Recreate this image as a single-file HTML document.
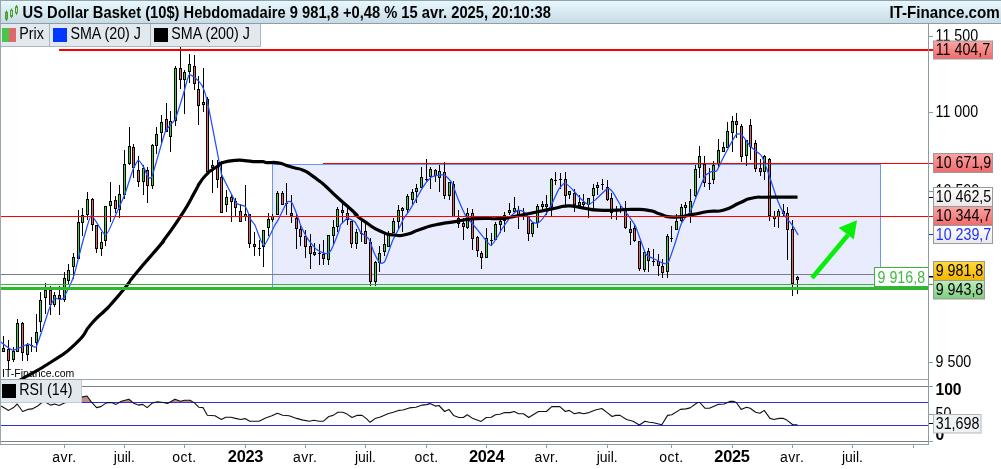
<!DOCTYPE html>
<html lang="fr"><head><meta charset="utf-8"><title>US Dollar Basket</title>
<style>
html,body{margin:0;padding:0;background:#fff;overflow:hidden}
svg{display:block}
text{font-family:"Liberation Sans",sans-serif;font-size:15px;letter-spacing:-0.35px;fill:#000}
.x{font-size:14px;letter-spacing:0}
.b{font-weight:bold}
</style></head><body>
<svg width="1001" height="469" viewBox="0 0 1001 469">
<defs>
<linearGradient id="gt" x1="0" y1="0" x2="0" y2="1"><stop offset="0" stop-color="#e8f9fe"/><stop offset="1" stop-color="#c8dbe5"/></linearGradient>
<linearGradient id="gr" x1="0" y1="0" x2="0" y2="1"><stop offset="0" stop-color="#fda5a5"/><stop offset="1" stop-color="#f06a6a"/></linearGradient>
<linearGradient id="gy" x1="0" y1="0" x2="0" y2="1"><stop offset="0" stop-color="#ffdc3c"/><stop offset="1" stop-color="#f4b400"/></linearGradient>
<linearGradient id="gg" x1="0" y1="0" x2="0" y2="1"><stop offset="0" stop-color="#bdeebd"/><stop offset="1" stop-color="#7fcb7f"/></linearGradient>
<linearGradient id="gw" x1="0" y1="0" x2="0" y2="1"><stop offset="0" stop-color="#ffffff"/><stop offset="1" stop-color="#e8e8e8"/></linearGradient>
<clipPath id="cm"><rect x="1" y="24" width="927.5" height="355.5"/></clipPath>
<clipPath id="cr"><rect x="0" y="380" width="928" height="22.5"/></clipPath>
</defs>
<rect width="1001" height="469" fill="#fff"/>

<g clip-path="url(#cm)">
<rect x="272.5" y="164.5" width="608" height="124" fill="#e8ecfd" stroke="#6f96ee" stroke-width="1"/>
<rect x="0" y="274" width="929" height="1" fill="#7c7c88"/>
<rect x="3" y="336" width="1" height="16" fill="#000"/>
<rect x="2" y="348" width="3" height="4" fill="#000"/>
<rect x="3" y="349" width="1" height="2" fill="#3fd23f"/>
<rect x="8" y="340" width="1" height="30" fill="#000"/>
<rect x="7" y="349" width="3" height="12" fill="#000"/>
<rect x="8" y="350" width="1" height="10" fill="#e26464"/>
<rect x="13" y="347" width="1" height="15" fill="#000"/>
<rect x="12" y="351" width="3" height="9" fill="#000"/>
<rect x="13" y="352" width="1" height="7" fill="#3fd23f"/>
<rect x="17" y="319" width="1" height="33" fill="#000"/>
<rect x="16" y="323" width="3" height="29" fill="#000"/>
<rect x="17" y="324" width="1" height="27" fill="#3fd23f"/>
<rect x="22" y="322" width="1" height="39" fill="#000"/>
<rect x="21" y="323" width="3" height="30" fill="#000"/>
<rect x="22" y="324" width="1" height="28" fill="#e26464"/>
<rect x="27" y="343" width="1" height="18" fill="#000"/>
<rect x="26" y="345" width="3" height="10" fill="#000"/>
<rect x="27" y="346" width="1" height="8" fill="#3fd23f"/>
<rect x="31" y="337" width="1" height="15" fill="#000"/>
<rect x="30" y="345" width="3" height="1" fill="#000"/>
<rect x="36" y="314" width="1" height="38" fill="#000"/>
<rect x="35" y="332" width="3" height="11" fill="#000"/>
<rect x="36" y="333" width="1" height="9" fill="#3fd23f"/>
<rect x="40" y="292" width="1" height="40" fill="#000"/>
<rect x="39" y="300" width="3" height="22" fill="#000"/>
<rect x="40" y="301" width="1" height="20" fill="#3fd23f"/>
<rect x="45" y="283" width="1" height="31" fill="#000"/>
<rect x="44" y="290" width="3" height="8" fill="#000"/>
<rect x="45" y="291" width="1" height="6" fill="#3fd23f"/>
<rect x="50" y="286" width="1" height="29" fill="#000"/>
<rect x="49" y="290" width="3" height="15" fill="#000"/>
<rect x="50" y="291" width="1" height="13" fill="#e26464"/>
<rect x="54" y="292" width="1" height="15" fill="#000"/>
<rect x="53" y="295" width="3" height="10" fill="#000"/>
<rect x="54" y="296" width="1" height="8" fill="#3fd23f"/>
<rect x="59" y="286" width="1" height="29" fill="#000"/>
<rect x="58" y="295" width="3" height="4" fill="#000"/>
<rect x="59" y="296" width="1" height="2" fill="#e26464"/>
<rect x="64" y="272" width="1" height="30" fill="#000"/>
<rect x="63" y="278" width="3" height="22" fill="#000"/>
<rect x="64" y="279" width="1" height="20" fill="#3fd23f"/>
<rect x="68" y="264" width="1" height="20" fill="#000"/>
<rect x="67" y="270" width="3" height="11" fill="#000"/>
<rect x="68" y="271" width="1" height="9" fill="#3fd23f"/>
<rect x="73" y="253" width="1" height="26" fill="#000"/>
<rect x="72" y="257" width="3" height="10" fill="#000"/>
<rect x="73" y="258" width="1" height="8" fill="#3fd23f"/>
<rect x="78" y="210" width="1" height="49" fill="#000"/>
<rect x="77" y="222" width="3" height="37" fill="#000"/>
<rect x="78" y="223" width="1" height="35" fill="#3fd23f"/>
<rect x="82" y="208" width="1" height="28" fill="#000"/>
<rect x="81" y="215" width="3" height="8" fill="#000"/>
<rect x="82" y="216" width="1" height="6" fill="#3fd23f"/>
<rect x="87" y="192" width="1" height="28" fill="#000"/>
<rect x="86" y="199" width="3" height="16" fill="#000"/>
<rect x="87" y="200" width="1" height="14" fill="#3fd23f"/>
<rect x="92" y="198" width="1" height="33" fill="#000"/>
<rect x="91" y="199" width="3" height="26" fill="#000"/>
<rect x="92" y="200" width="1" height="24" fill="#e26464"/>
<rect x="96" y="225" width="1" height="28" fill="#000"/>
<rect x="95" y="225" width="3" height="24" fill="#000"/>
<rect x="96" y="226" width="1" height="22" fill="#e26464"/>
<rect x="101" y="232" width="1" height="24" fill="#000"/>
<rect x="100" y="242" width="3" height="7" fill="#000"/>
<rect x="101" y="243" width="1" height="5" fill="#3fd23f"/>
<rect x="105" y="206" width="1" height="40" fill="#000"/>
<rect x="104" y="206" width="3" height="35" fill="#000"/>
<rect x="105" y="207" width="1" height="33" fill="#3fd23f"/>
<rect x="110" y="182" width="1" height="40" fill="#000"/>
<rect x="109" y="201" width="3" height="5" fill="#000"/>
<rect x="110" y="202" width="1" height="3" fill="#3fd23f"/>
<rect x="115" y="196" width="1" height="17" fill="#000"/>
<rect x="114" y="200" width="3" height="9" fill="#000"/>
<rect x="115" y="201" width="1" height="7" fill="#e26464"/>
<rect x="119" y="185" width="1" height="33" fill="#000"/>
<rect x="118" y="194" width="3" height="16" fill="#000"/>
<rect x="119" y="195" width="1" height="14" fill="#3fd23f"/>
<rect x="124" y="150" width="1" height="49" fill="#000"/>
<rect x="123" y="164" width="3" height="31" fill="#000"/>
<rect x="124" y="165" width="1" height="29" fill="#3fd23f"/>
<rect x="129" y="127" width="1" height="38" fill="#000"/>
<rect x="128" y="146" width="3" height="18" fill="#000"/>
<rect x="129" y="147" width="1" height="16" fill="#3fd23f"/>
<rect x="133" y="144" width="1" height="34" fill="#000"/>
<rect x="132" y="147" width="3" height="21" fill="#000"/>
<rect x="133" y="148" width="1" height="19" fill="#e26464"/>
<rect x="138" y="156" width="1" height="31" fill="#000"/>
<rect x="137" y="170" width="3" height="12" fill="#000"/>
<rect x="138" y="171" width="1" height="10" fill="#e26464"/>
<rect x="143" y="165" width="1" height="30" fill="#000"/>
<rect x="142" y="168" width="3" height="14" fill="#000"/>
<rect x="143" y="169" width="1" height="12" fill="#3fd23f"/>
<rect x="147" y="167" width="1" height="36" fill="#000"/>
<rect x="146" y="170" width="3" height="16" fill="#000"/>
<rect x="147" y="171" width="1" height="14" fill="#e26464"/>
<rect x="152" y="144" width="1" height="45" fill="#000"/>
<rect x="151" y="145" width="3" height="41" fill="#000"/>
<rect x="152" y="146" width="1" height="39" fill="#3fd23f"/>
<rect x="156" y="127" width="1" height="27" fill="#000"/>
<rect x="155" y="134" width="3" height="12" fill="#000"/>
<rect x="156" y="135" width="1" height="10" fill="#3fd23f"/>
<rect x="161" y="115" width="1" height="28" fill="#000"/>
<rect x="160" y="122" width="3" height="11" fill="#000"/>
<rect x="161" y="123" width="1" height="9" fill="#3fd23f"/>
<rect x="166" y="103" width="1" height="29" fill="#000"/>
<rect x="165" y="119" width="3" height="13" fill="#000"/>
<rect x="166" y="120" width="1" height="11" fill="#e26464"/>
<rect x="170" y="111" width="1" height="41" fill="#000"/>
<rect x="169" y="121" width="3" height="16" fill="#000"/>
<rect x="170" y="122" width="1" height="14" fill="#3fd23f"/>
<rect x="175" y="66" width="1" height="60" fill="#000"/>
<rect x="174" y="68" width="3" height="53" fill="#000"/>
<rect x="175" y="69" width="1" height="51" fill="#3fd23f"/>
<rect x="180" y="47" width="1" height="42" fill="#000"/>
<rect x="179" y="68" width="3" height="12" fill="#000"/>
<rect x="180" y="69" width="1" height="10" fill="#e26464"/>
<rect x="184" y="70" width="1" height="44" fill="#000"/>
<rect x="183" y="72" width="3" height="8" fill="#000"/>
<rect x="184" y="73" width="1" height="6" fill="#3fd23f"/>
<rect x="189" y="54" width="1" height="29" fill="#000"/>
<rect x="188" y="64" width="3" height="8" fill="#000"/>
<rect x="189" y="65" width="1" height="6" fill="#3fd23f"/>
<rect x="194" y="55" width="1" height="35" fill="#000"/>
<rect x="193" y="66" width="3" height="18" fill="#000"/>
<rect x="194" y="67" width="1" height="16" fill="#e26464"/>
<rect x="198" y="76" width="1" height="49" fill="#000"/>
<rect x="197" y="89" width="3" height="17" fill="#000"/>
<rect x="198" y="90" width="1" height="15" fill="#e26464"/>
<rect x="203" y="68" width="1" height="44" fill="#000"/>
<rect x="202" y="102" width="3" height="3" fill="#000"/>
<rect x="203" y="103" width="1" height="1" fill="#3fd23f"/>
<rect x="207" y="97" width="1" height="75" fill="#000"/>
<rect x="206" y="99" width="3" height="73" fill="#000"/>
<rect x="207" y="100" width="1" height="71" fill="#e26464"/>
<rect x="212" y="160" width="1" height="33" fill="#000"/>
<rect x="211" y="165" width="3" height="3" fill="#000"/>
<rect x="212" y="166" width="1" height="1" fill="#3fd23f"/>
<rect x="217" y="160" width="1" height="28" fill="#000"/>
<rect x="216" y="166" width="3" height="14" fill="#000"/>
<rect x="217" y="167" width="1" height="12" fill="#e26464"/>
<rect x="221" y="161" width="1" height="52" fill="#000"/>
<rect x="220" y="177" width="3" height="36" fill="#000"/>
<rect x="221" y="178" width="1" height="34" fill="#e26464"/>
<rect x="226" y="190" width="1" height="22" fill="#000"/>
<rect x="225" y="197" width="3" height="8" fill="#000"/>
<rect x="226" y="198" width="1" height="6" fill="#3fd23f"/>
<rect x="231" y="195" width="1" height="27" fill="#000"/>
<rect x="230" y="197" width="3" height="5" fill="#000"/>
<rect x="231" y="198" width="1" height="3" fill="#e26464"/>
<rect x="235" y="198" width="1" height="19" fill="#000"/>
<rect x="234" y="201" width="3" height="7" fill="#000"/>
<rect x="235" y="202" width="1" height="5" fill="#e26464"/>
<rect x="240" y="204" width="1" height="18" fill="#000"/>
<rect x="239" y="211" width="3" height="11" fill="#000"/>
<rect x="240" y="212" width="1" height="9" fill="#e26464"/>
<rect x="245" y="185" width="1" height="36" fill="#000"/>
<rect x="244" y="214" width="3" height="3" fill="#000"/>
<rect x="245" y="215" width="1" height="1" fill="#3fd23f"/>
<rect x="249" y="214" width="1" height="34" fill="#000"/>
<rect x="248" y="214" width="3" height="30" fill="#000"/>
<rect x="249" y="215" width="1" height="28" fill="#e26464"/>
<rect x="254" y="232" width="1" height="24" fill="#000"/>
<rect x="253" y="244" width="3" height="3" fill="#000"/>
<rect x="254" y="245" width="1" height="1" fill="#e26464"/>
<rect x="259" y="240" width="1" height="16" fill="#000"/>
<rect x="258" y="248" width="3" height="1" fill="#000"/>
<rect x="263" y="230" width="1" height="37" fill="#000"/>
<rect x="262" y="230" width="3" height="17" fill="#000"/>
<rect x="263" y="231" width="1" height="15" fill="#3fd23f"/>
<rect x="268" y="213" width="1" height="23" fill="#000"/>
<rect x="267" y="219" width="3" height="9" fill="#000"/>
<rect x="268" y="220" width="1" height="7" fill="#3fd23f"/>
<rect x="272" y="214" width="1" height="8" fill="#000"/>
<rect x="271" y="216" width="3" height="4" fill="#000"/>
<rect x="272" y="217" width="1" height="2" fill="#3fd23f"/>
<rect x="277" y="191" width="1" height="24" fill="#000"/>
<rect x="276" y="193" width="3" height="22" fill="#000"/>
<rect x="277" y="194" width="1" height="20" fill="#3fd23f"/>
<rect x="282" y="191" width="1" height="14" fill="#000"/>
<rect x="281" y="193" width="3" height="12" fill="#000"/>
<rect x="282" y="194" width="1" height="10" fill="#e26464"/>
<rect x="286" y="183" width="1" height="32" fill="#000"/>
<rect x="285" y="203" width="3" height="1" fill="#000"/>
<rect x="291" y="195" width="1" height="28" fill="#000"/>
<rect x="290" y="213" width="3" height="3" fill="#000"/>
<rect x="291" y="214" width="1" height="1" fill="#e26464"/>
<rect x="296" y="214" width="1" height="35" fill="#000"/>
<rect x="295" y="218" width="3" height="11" fill="#000"/>
<rect x="296" y="219" width="1" height="9" fill="#e26464"/>
<rect x="300" y="226" width="1" height="20" fill="#000"/>
<rect x="299" y="229" width="3" height="8" fill="#000"/>
<rect x="300" y="230" width="1" height="6" fill="#e26464"/>
<rect x="305" y="230" width="1" height="28" fill="#000"/>
<rect x="304" y="236" width="3" height="11" fill="#000"/>
<rect x="305" y="237" width="1" height="9" fill="#e26464"/>
<rect x="310" y="234" width="1" height="35" fill="#000"/>
<rect x="309" y="246" width="3" height="8" fill="#000"/>
<rect x="310" y="247" width="1" height="6" fill="#e26464"/>
<rect x="314" y="243" width="1" height="13" fill="#000"/>
<rect x="313" y="252" width="3" height="3" fill="#000"/>
<rect x="314" y="253" width="1" height="1" fill="#3fd23f"/>
<rect x="319" y="244" width="1" height="21" fill="#000"/>
<rect x="318" y="253" width="3" height="1" fill="#000"/>
<rect x="323" y="240" width="1" height="25" fill="#000"/>
<rect x="322" y="254" width="3" height="5" fill="#000"/>
<rect x="323" y="255" width="1" height="3" fill="#e26464"/>
<rect x="328" y="235" width="1" height="30" fill="#000"/>
<rect x="327" y="235" width="3" height="25" fill="#000"/>
<rect x="328" y="236" width="1" height="23" fill="#3fd23f"/>
<rect x="333" y="220" width="1" height="24" fill="#000"/>
<rect x="332" y="227" width="3" height="9" fill="#000"/>
<rect x="333" y="228" width="1" height="7" fill="#3fd23f"/>
<rect x="337" y="207" width="1" height="25" fill="#000"/>
<rect x="336" y="209" width="3" height="18" fill="#000"/>
<rect x="337" y="210" width="1" height="16" fill="#3fd23f"/>
<rect x="342" y="204" width="1" height="19" fill="#000"/>
<rect x="341" y="210" width="3" height="3" fill="#000"/>
<rect x="342" y="211" width="1" height="1" fill="#e26464"/>
<rect x="347" y="208" width="1" height="17" fill="#000"/>
<rect x="346" y="213" width="3" height="7" fill="#000"/>
<rect x="347" y="214" width="1" height="5" fill="#e26464"/>
<rect x="351" y="221" width="1" height="27" fill="#000"/>
<rect x="350" y="221" width="3" height="23" fill="#000"/>
<rect x="351" y="222" width="1" height="21" fill="#e26464"/>
<rect x="356" y="229" width="1" height="20" fill="#000"/>
<rect x="355" y="232" width="3" height="12" fill="#000"/>
<rect x="356" y="233" width="1" height="10" fill="#3fd23f"/>
<rect x="361" y="221" width="1" height="21" fill="#000"/>
<rect x="360" y="233" width="3" height="1" fill="#000"/>
<rect x="365" y="221" width="1" height="23" fill="#000"/>
<rect x="364" y="231" width="3" height="13" fill="#000"/>
<rect x="365" y="232" width="1" height="11" fill="#e26464"/>
<rect x="370" y="238" width="1" height="48" fill="#000"/>
<rect x="369" y="242" width="3" height="40" fill="#000"/>
<rect x="370" y="243" width="1" height="38" fill="#e26464"/>
<rect x="375" y="261" width="1" height="25" fill="#000"/>
<rect x="374" y="262" width="3" height="20" fill="#000"/>
<rect x="375" y="263" width="1" height="18" fill="#3fd23f"/>
<rect x="379" y="246" width="1" height="26" fill="#000"/>
<rect x="378" y="253" width="3" height="10" fill="#000"/>
<rect x="379" y="254" width="1" height="8" fill="#3fd23f"/>
<rect x="384" y="233" width="1" height="23" fill="#000"/>
<rect x="383" y="244" width="3" height="8" fill="#000"/>
<rect x="384" y="245" width="1" height="6" fill="#3fd23f"/>
<rect x="388" y="231" width="1" height="16" fill="#000"/>
<rect x="387" y="235" width="3" height="12" fill="#000"/>
<rect x="388" y="236" width="1" height="10" fill="#3fd23f"/>
<rect x="393" y="218" width="1" height="15" fill="#000"/>
<rect x="392" y="221" width="3" height="12" fill="#000"/>
<rect x="393" y="222" width="1" height="10" fill="#3fd23f"/>
<rect x="398" y="205" width="1" height="24" fill="#000"/>
<rect x="397" y="210" width="3" height="12" fill="#000"/>
<rect x="398" y="211" width="1" height="10" fill="#3fd23f"/>
<rect x="402" y="207" width="1" height="25" fill="#000"/>
<rect x="401" y="208" width="3" height="3" fill="#000"/>
<rect x="402" y="209" width="1" height="1" fill="#3fd23f"/>
<rect x="407" y="194" width="1" height="19" fill="#000"/>
<rect x="406" y="196" width="3" height="14" fill="#000"/>
<rect x="407" y="197" width="1" height="12" fill="#3fd23f"/>
<rect x="412" y="189" width="1" height="16" fill="#000"/>
<rect x="411" y="192" width="3" height="8" fill="#000"/>
<rect x="412" y="193" width="1" height="6" fill="#3fd23f"/>
<rect x="416" y="184" width="1" height="19" fill="#000"/>
<rect x="415" y="188" width="3" height="4" fill="#000"/>
<rect x="416" y="189" width="1" height="2" fill="#3fd23f"/>
<rect x="421" y="167" width="1" height="21" fill="#000"/>
<rect x="420" y="177" width="3" height="11" fill="#000"/>
<rect x="421" y="178" width="1" height="9" fill="#3fd23f"/>
<rect x="426" y="159" width="1" height="22" fill="#000"/>
<rect x="425" y="179" width="3" height="1" fill="#000"/>
<rect x="430" y="167" width="1" height="22" fill="#000"/>
<rect x="429" y="169" width="3" height="8" fill="#000"/>
<rect x="430" y="170" width="1" height="6" fill="#3fd23f"/>
<rect x="435" y="169" width="1" height="13" fill="#000"/>
<rect x="434" y="170" width="3" height="6" fill="#000"/>
<rect x="435" y="171" width="1" height="4" fill="#e26464"/>
<rect x="439" y="165" width="1" height="27" fill="#000"/>
<rect x="438" y="171" width="3" height="7" fill="#000"/>
<rect x="439" y="172" width="1" height="5" fill="#3fd23f"/>
<rect x="444" y="162" width="1" height="37" fill="#000"/>
<rect x="443" y="172" width="3" height="24" fill="#000"/>
<rect x="444" y="173" width="1" height="22" fill="#e26464"/>
<rect x="449" y="182" width="1" height="18" fill="#000"/>
<rect x="448" y="182" width="3" height="14" fill="#000"/>
<rect x="449" y="183" width="1" height="12" fill="#3fd23f"/>
<rect x="453" y="181" width="1" height="36" fill="#000"/>
<rect x="452" y="184" width="3" height="33" fill="#000"/>
<rect x="453" y="185" width="1" height="31" fill="#e26464"/>
<rect x="458" y="210" width="1" height="18" fill="#000"/>
<rect x="457" y="218" width="3" height="6" fill="#000"/>
<rect x="458" y="219" width="1" height="4" fill="#e26464"/>
<rect x="463" y="218" width="1" height="22" fill="#000"/>
<rect x="462" y="223" width="3" height="4" fill="#000"/>
<rect x="463" y="224" width="1" height="2" fill="#e26464"/>
<rect x="467" y="208" width="1" height="21" fill="#000"/>
<rect x="466" y="213" width="3" height="15" fill="#000"/>
<rect x="467" y="214" width="1" height="13" fill="#3fd23f"/>
<rect x="472" y="209" width="1" height="41" fill="#000"/>
<rect x="471" y="213" width="3" height="26" fill="#000"/>
<rect x="472" y="214" width="1" height="24" fill="#e26464"/>
<rect x="477" y="236" width="1" height="21" fill="#000"/>
<rect x="476" y="237" width="3" height="14" fill="#000"/>
<rect x="477" y="238" width="1" height="12" fill="#e26464"/>
<rect x="481" y="251" width="1" height="18" fill="#000"/>
<rect x="480" y="253" width="3" height="5" fill="#000"/>
<rect x="481" y="254" width="1" height="3" fill="#e26464"/>
<rect x="486" y="228" width="1" height="30" fill="#000"/>
<rect x="485" y="238" width="3" height="20" fill="#000"/>
<rect x="486" y="239" width="1" height="18" fill="#3fd23f"/>
<rect x="491" y="233" width="1" height="13" fill="#000"/>
<rect x="490" y="240" width="3" height="1" fill="#000"/>
<rect x="495" y="222" width="1" height="18" fill="#000"/>
<rect x="494" y="224" width="3" height="16" fill="#000"/>
<rect x="495" y="225" width="1" height="14" fill="#3fd23f"/>
<rect x="500" y="220" width="1" height="13" fill="#000"/>
<rect x="499" y="221" width="3" height="4" fill="#000"/>
<rect x="500" y="222" width="1" height="2" fill="#3fd23f"/>
<rect x="504" y="212" width="1" height="20" fill="#000"/>
<rect x="503" y="215" width="3" height="6" fill="#000"/>
<rect x="504" y="216" width="1" height="4" fill="#3fd23f"/>
<rect x="509" y="203" width="1" height="12" fill="#000"/>
<rect x="508" y="210" width="3" height="3" fill="#000"/>
<rect x="509" y="211" width="1" height="1" fill="#3fd23f"/>
<rect x="514" y="197" width="1" height="16" fill="#000"/>
<rect x="513" y="208" width="3" height="4" fill="#000"/>
<rect x="514" y="209" width="1" height="2" fill="#3fd23f"/>
<rect x="518" y="206" width="1" height="23" fill="#000"/>
<rect x="517" y="210" width="3" height="6" fill="#000"/>
<rect x="518" y="211" width="1" height="4" fill="#e26464"/>
<rect x="523" y="208" width="1" height="12" fill="#000"/>
<rect x="522" y="214" width="3" height="1" fill="#000"/>
<rect x="528" y="216" width="1" height="25" fill="#000"/>
<rect x="527" y="216" width="3" height="18" fill="#000"/>
<rect x="528" y="217" width="1" height="16" fill="#e26464"/>
<rect x="532" y="222" width="1" height="15" fill="#000"/>
<rect x="531" y="223" width="3" height="11" fill="#000"/>
<rect x="532" y="224" width="1" height="9" fill="#3fd23f"/>
<rect x="537" y="204" width="1" height="24" fill="#000"/>
<rect x="536" y="206" width="3" height="17" fill="#000"/>
<rect x="537" y="207" width="1" height="15" fill="#3fd23f"/>
<rect x="542" y="201" width="1" height="11" fill="#000"/>
<rect x="541" y="204" width="3" height="3" fill="#000"/>
<rect x="542" y="205" width="1" height="1" fill="#3fd23f"/>
<rect x="546" y="195" width="1" height="20" fill="#000"/>
<rect x="545" y="204" width="3" height="3" fill="#000"/>
<rect x="546" y="205" width="1" height="1" fill="#e26464"/>
<rect x="551" y="178" width="1" height="38" fill="#000"/>
<rect x="550" y="179" width="3" height="28" fill="#000"/>
<rect x="551" y="180" width="1" height="26" fill="#3fd23f"/>
<rect x="555" y="172" width="1" height="13" fill="#000"/>
<rect x="554" y="180" width="3" height="1" fill="#000"/>
<rect x="560" y="173" width="1" height="16" fill="#000"/>
<rect x="559" y="179" width="3" height="1" fill="#000"/>
<rect x="565" y="172" width="1" height="33" fill="#000"/>
<rect x="564" y="179" width="3" height="17" fill="#000"/>
<rect x="565" y="180" width="1" height="15" fill="#e26464"/>
<rect x="569" y="191" width="1" height="8" fill="#000"/>
<rect x="568" y="191" width="3" height="4" fill="#000"/>
<rect x="569" y="192" width="1" height="2" fill="#3fd23f"/>
<rect x="574" y="189" width="1" height="23" fill="#000"/>
<rect x="573" y="193" width="3" height="12" fill="#000"/>
<rect x="574" y="194" width="1" height="10" fill="#e26464"/>
<rect x="579" y="195" width="1" height="11" fill="#000"/>
<rect x="578" y="202" width="3" height="4" fill="#000"/>
<rect x="579" y="203" width="1" height="2" fill="#3fd23f"/>
<rect x="583" y="194" width="1" height="13" fill="#000"/>
<rect x="582" y="202" width="3" height="3" fill="#000"/>
<rect x="583" y="203" width="1" height="1" fill="#e26464"/>
<rect x="588" y="198" width="1" height="20" fill="#000"/>
<rect x="587" y="198" width="3" height="7" fill="#000"/>
<rect x="588" y="199" width="1" height="5" fill="#3fd23f"/>
<rect x="593" y="184" width="1" height="24" fill="#000"/>
<rect x="592" y="188" width="3" height="8" fill="#000"/>
<rect x="593" y="189" width="1" height="6" fill="#3fd23f"/>
<rect x="597" y="182" width="1" height="13" fill="#000"/>
<rect x="596" y="185" width="3" height="3" fill="#000"/>
<rect x="597" y="186" width="1" height="1" fill="#3fd23f"/>
<rect x="602" y="179" width="1" height="11" fill="#000"/>
<rect x="601" y="184" width="3" height="1" fill="#000"/>
<rect x="607" y="180" width="1" height="21" fill="#000"/>
<rect x="606" y="187" width="3" height="13" fill="#000"/>
<rect x="607" y="188" width="1" height="11" fill="#e26464"/>
<rect x="611" y="193" width="1" height="26" fill="#000"/>
<rect x="610" y="198" width="3" height="15" fill="#000"/>
<rect x="611" y="199" width="1" height="13" fill="#e26464"/>
<rect x="616" y="206" width="1" height="14" fill="#000"/>
<rect x="615" y="210" width="3" height="1" fill="#000"/>
<rect x="620" y="205" width="1" height="8" fill="#000"/>
<rect x="619" y="210" width="3" height="1" fill="#000"/>
<rect x="625" y="201" width="1" height="28" fill="#000"/>
<rect x="624" y="210" width="3" height="18" fill="#000"/>
<rect x="625" y="211" width="1" height="16" fill="#e26464"/>
<rect x="630" y="221" width="1" height="24" fill="#000"/>
<rect x="629" y="229" width="3" height="4" fill="#000"/>
<rect x="630" y="230" width="1" height="2" fill="#e26464"/>
<rect x="634" y="225" width="1" height="17" fill="#000"/>
<rect x="633" y="228" width="3" height="13" fill="#000"/>
<rect x="634" y="229" width="1" height="11" fill="#e26464"/>
<rect x="639" y="241" width="1" height="30" fill="#000"/>
<rect x="638" y="241" width="3" height="28" fill="#000"/>
<rect x="639" y="242" width="1" height="26" fill="#e26464"/>
<rect x="644" y="251" width="1" height="21" fill="#000"/>
<rect x="643" y="252" width="3" height="18" fill="#000"/>
<rect x="644" y="253" width="1" height="16" fill="#3fd23f"/>
<rect x="648" y="248" width="1" height="24" fill="#000"/>
<rect x="647" y="251" width="3" height="10" fill="#000"/>
<rect x="648" y="252" width="1" height="8" fill="#e26464"/>
<rect x="653" y="249" width="1" height="17" fill="#000"/>
<rect x="652" y="261" width="3" height="1" fill="#000"/>
<rect x="658" y="254" width="1" height="22" fill="#000"/>
<rect x="657" y="261" width="3" height="5" fill="#000"/>
<rect x="658" y="262" width="1" height="3" fill="#e26464"/>
<rect x="662" y="259" width="1" height="19" fill="#000"/>
<rect x="661" y="266" width="3" height="7" fill="#000"/>
<rect x="662" y="267" width="1" height="5" fill="#e26464"/>
<rect x="667" y="234" width="1" height="44" fill="#000"/>
<rect x="666" y="236" width="3" height="36" fill="#000"/>
<rect x="667" y="237" width="1" height="34" fill="#3fd23f"/>
<rect x="671" y="226" width="1" height="16" fill="#000"/>
<rect x="670" y="238" width="3" height="1" fill="#000"/>
<rect x="676" y="214" width="1" height="16" fill="#000"/>
<rect x="675" y="221" width="3" height="9" fill="#000"/>
<rect x="676" y="222" width="1" height="7" fill="#3fd23f"/>
<rect x="681" y="204" width="1" height="18" fill="#000"/>
<rect x="680" y="207" width="3" height="14" fill="#000"/>
<rect x="681" y="208" width="1" height="12" fill="#3fd23f"/>
<rect x="685" y="202" width="1" height="14" fill="#000"/>
<rect x="684" y="205" width="3" height="3" fill="#000"/>
<rect x="685" y="206" width="1" height="1" fill="#e26464"/>
<rect x="690" y="189" width="1" height="34" fill="#000"/>
<rect x="689" y="201" width="3" height="13" fill="#000"/>
<rect x="690" y="202" width="1" height="11" fill="#3fd23f"/>
<rect x="695" y="165" width="1" height="32" fill="#000"/>
<rect x="694" y="169" width="3" height="27" fill="#000"/>
<rect x="695" y="170" width="1" height="25" fill="#3fd23f"/>
<rect x="699" y="146" width="1" height="32" fill="#000"/>
<rect x="698" y="156" width="3" height="12" fill="#000"/>
<rect x="699" y="157" width="1" height="10" fill="#3fd23f"/>
<rect x="704" y="156" width="1" height="31" fill="#000"/>
<rect x="703" y="164" width="3" height="19" fill="#000"/>
<rect x="704" y="165" width="1" height="17" fill="#e26464"/>
<rect x="709" y="168" width="1" height="22" fill="#000"/>
<rect x="708" y="183" width="3" height="1" fill="#000"/>
<rect x="713" y="161" width="1" height="23" fill="#000"/>
<rect x="712" y="165" width="3" height="15" fill="#000"/>
<rect x="713" y="166" width="1" height="13" fill="#3fd23f"/>
<rect x="718" y="139" width="1" height="29" fill="#000"/>
<rect x="717" y="150" width="3" height="14" fill="#000"/>
<rect x="718" y="151" width="1" height="12" fill="#3fd23f"/>
<rect x="723" y="142" width="1" height="10" fill="#000"/>
<rect x="722" y="147" width="3" height="5" fill="#000"/>
<rect x="723" y="148" width="1" height="3" fill="#3fd23f"/>
<rect x="727" y="122" width="1" height="26" fill="#000"/>
<rect x="726" y="131" width="3" height="17" fill="#000"/>
<rect x="727" y="132" width="1" height="15" fill="#3fd23f"/>
<rect x="732" y="116" width="1" height="36" fill="#000"/>
<rect x="731" y="121" width="3" height="12" fill="#000"/>
<rect x="732" y="122" width="1" height="10" fill="#3fd23f"/>
<rect x="736" y="113" width="1" height="25" fill="#000"/>
<rect x="735" y="121" width="3" height="4" fill="#000"/>
<rect x="736" y="122" width="1" height="2" fill="#e26464"/>
<rect x="741" y="124" width="1" height="38" fill="#000"/>
<rect x="740" y="126" width="3" height="31" fill="#000"/>
<rect x="741" y="127" width="1" height="29" fill="#e26464"/>
<rect x="746" y="140" width="1" height="26" fill="#000"/>
<rect x="745" y="140" width="3" height="16" fill="#000"/>
<rect x="746" y="141" width="1" height="14" fill="#3fd23f"/>
<rect x="750" y="119" width="1" height="41" fill="#000"/>
<rect x="749" y="125" width="3" height="22" fill="#000"/>
<rect x="750" y="126" width="1" height="20" fill="#e26464"/>
<rect x="755" y="140" width="1" height="32" fill="#000"/>
<rect x="754" y="143" width="3" height="26" fill="#000"/>
<rect x="755" y="144" width="1" height="24" fill="#e26464"/>
<rect x="760" y="159" width="1" height="17" fill="#000"/>
<rect x="759" y="168" width="3" height="4" fill="#000"/>
<rect x="760" y="169" width="1" height="2" fill="#e26464"/>
<rect x="764" y="155" width="1" height="25" fill="#000"/>
<rect x="763" y="156" width="3" height="16" fill="#000"/>
<rect x="764" y="157" width="1" height="14" fill="#3fd23f"/>
<rect x="769" y="158" width="1" height="63" fill="#000"/>
<rect x="768" y="159" width="3" height="57" fill="#000"/>
<rect x="769" y="160" width="1" height="55" fill="#e26464"/>
<rect x="774" y="211" width="1" height="16" fill="#000"/>
<rect x="773" y="216" width="3" height="3" fill="#000"/>
<rect x="774" y="217" width="1" height="1" fill="#3fd23f"/>
<rect x="778" y="209" width="1" height="19" fill="#000"/>
<rect x="777" y="211" width="3" height="6" fill="#000"/>
<rect x="778" y="212" width="1" height="4" fill="#3fd23f"/>
<rect x="783" y="204" width="1" height="12" fill="#000"/>
<rect x="782" y="211" width="3" height="3" fill="#000"/>
<rect x="783" y="212" width="1" height="1" fill="#e26464"/>
<rect x="787" y="207" width="1" height="53" fill="#000"/>
<rect x="786" y="213" width="3" height="17" fill="#000"/>
<rect x="787" y="214" width="1" height="15" fill="#e26464"/>
<rect x="792" y="220" width="1" height="76" fill="#000"/>
<rect x="791" y="229" width="3" height="55" fill="#000"/>
<rect x="792" y="230" width="1" height="53" fill="#e26464"/>
<rect x="797" y="276" width="1" height="18" fill="#000"/>
<rect x="796" y="277" width="3" height="3" fill="#000"/>
<rect x="797" y="278" width="1" height="1" fill="#3fd23f"/>
<path d="M0 341.4C1.1 342.1 10.5 350.0 12.8 350.2C15.1 350.4 26.0 344.5 28 344.2C30.0 343.9 34.7 349.1 36.4 346.2C38.1 343.3 47.6 313.4 48.8 310C50.0 306.6 50.3 306.0 50.8 305C51.3 304.0 54.3 298.5 55.1 298.1C55.9 297.7 59.3 299.8 60 299.7C60.7 299.6 63.1 298.6 64 297.3C64.9 296.0 69.4 286.5 70.3 284.6C71.2 282.7 73.2 277.9 74.3 274.2C75.4 270.5 82.3 243.3 83.2 240C84.1 236.7 84.0 237.1 84.7 235C85.4 232.9 89.8 215.4 91.5 215.4C93.2 215.4 103.5 235.2 105.5 235.3C107.5 235.4 113.5 219.6 115.1 216.2C116.7 212.8 123.2 198.4 124.7 194.6C126.2 190.8 131.7 172.9 132.8 170C133.9 167.1 137.5 160.4 138.4 160.2C139.3 160.0 143.2 166.4 144 167.7C144.8 169.0 146.9 175.6 147.6 176.3C148.3 177.0 150.7 180.0 152.1 176.3C153.5 172.7 163.1 137.3 165 132.5C166.9 127.7 173.8 122.1 175.3 119C176.8 115.9 181.9 98.7 183.1 95C184.3 91.3 187.9 75.9 189.2 74.8C190.5 73.7 197.9 80.4 199.1 81.6C200.3 82.8 203.1 87.4 203.9 89.6C204.7 91.8 207.3 101.1 208.7 107.8C210.1 114.5 219.6 164.5 220.7 170C221.8 175.5 220.5 171.9 221.4 174C222.3 176.1 230.5 192.3 231.8 194.8C233.1 197.3 235.5 202.5 236.6 203.5C237.7 204.5 244.2 205.3 245.4 206.7C246.6 208.1 250.2 218.5 251 220C251.8 221.5 253.8 222.9 254.9 225C256.0 227.1 262.0 245.6 263.7 245.6C265.4 245.6 273.7 227.1 274.9 225C276.1 222.9 277.1 221.9 278.1 220C279.1 218.1 285.8 203.9 286.9 202.4C288.0 200.9 290.7 200.9 291.7 202.4C292.7 203.9 298.2 218.1 298.9 220C299.6 221.9 299.8 223.5 300.5 225C301.2 226.5 305.6 235.5 306.9 237.6C308.2 239.7 314.9 248.3 316.5 249.6C318.1 250.9 324.9 253.5 326.1 253.6C327.3 253.7 329.8 252.3 330.9 250.4C332.0 248.5 338.1 233.3 338.9 231.2C339.7 229.1 340.0 225.9 340.5 225C341.0 224.1 344.7 220.6 345.3 220C345.9 219.4 346.9 217.8 347.7 218C348.5 218.2 353.9 220.8 355 222C356.1 223.2 359.7 231.2 360.8 232.6C361.9 234.0 367.7 237.3 368.8 239C369.9 240.7 373.5 251.4 374.4 253.4C375.3 255.4 379.1 262.3 380 263C380.9 263.7 383.7 263.3 384.8 261.4C385.9 259.5 391.4 243.6 392.7 240.6C394.0 237.6 399.8 226.9 400.7 225C401.6 223.1 403.1 219.5 403.9 218.2C404.7 216.9 408.7 211.7 410.3 209.1C411.9 206.5 421.4 189.5 423.1 186.8C424.8 184.1 429.9 178.2 431.1 177.2C432.3 176.2 436.4 175.5 437.5 175.3C438.6 175.1 443.5 174.7 444.7 175.3C445.9 175.9 450.8 180.8 451.9 182.8C453.0 184.8 457.1 196.7 458.3 199.6C459.5 202.5 465.1 215.1 466.3 217.1C467.5 219.1 471.4 222.4 472.7 224C474.0 225.6 480.8 234.0 482.3 235.8C483.8 237.6 489.6 245.7 491.1 245.4C492.6 245.1 499.2 233.9 500 232.6C500.8 231.3 500.3 231.3 501.2 230C502.1 228.7 509.4 218.2 510.8 216.5C512.2 214.8 516.9 210.5 518 210.1C519.1 209.7 523.2 211.2 524.4 212.2C525.6 213.2 531.3 221.2 532.4 222.1C533.5 223.0 537.0 223.5 538 223C539.0 222.5 543.2 218.0 544.3 216.5C545.4 215.0 550.3 206.9 551.5 204.6C552.7 202.3 557.6 191.2 558.7 189.4C559.8 187.6 563.9 182.9 565.1 183C566.3 183.1 571.8 188.9 573.1 190.2C574.4 191.5 579.8 197.8 581.1 199C582.4 200.2 587.1 204.5 588.3 204.6C589.5 204.7 593.9 201.1 595.5 199.8C597.1 198.5 606.0 189.2 607.5 188.6C609.0 188.0 612.0 191.1 613.1 192.6C614.2 194.1 619.8 204.2 621.1 206.2C622.4 208.2 627.9 214.8 629.1 216.5C630.3 218.2 634.4 223.9 635.5 226.2C636.6 228.5 641.0 241.4 641.9 243.8C642.8 246.2 645.2 253.7 646.4 255C647.6 256.3 654.7 259.1 656 259.8C657.3 260.5 661.4 262.7 662.4 263C663.4 263.3 667.0 264.5 668 263C669.0 261.5 673.3 248.6 674.4 245.4C675.5 242.2 679.9 227.3 680.8 225C681.7 222.7 684.0 219.3 684.8 218.2C685.6 217.1 689.3 213.6 690.4 211.5C691.5 209.4 696.4 196.1 697.6 193.2C698.8 190.3 703.7 178.2 704.8 176.4C705.9 174.6 710.2 172.1 711.2 171.6C712.2 171.1 715.6 172.1 716.7 170.8C717.8 169.5 723.1 158.0 723.9 156.4C724.7 154.8 725.4 153.5 726.4 151.7C727.4 149.9 734.6 136.4 735.9 135C737.2 133.6 740.3 133.7 741.5 134.6C742.7 135.5 748.8 144.6 750.3 146.2C751.8 147.8 758.9 153.2 759.9 154.1C760.9 155.0 761.6 155.5 762.3 157.2C763.0 158.9 767.5 170.6 768.7 174C769.9 177.4 775.4 194.5 776.7 198C778.0 201.5 783.4 213.3 784.7 215.5C786.0 217.7 790.8 223.0 791.9 224.6C793.0 226.2 797.7 234.1 798.2 235" fill="none" stroke="#2050ff" stroke-width="1.25" stroke-linejoin="round"/>
<path d="M14 384C16.0 382.7 7.1 387.7 20 380C32.9 372.3 33.8 373.5 52.7 361C71.6 348.5 63.9 354.9 76.7 342.6C89.5 330.3 81.4 335.1 91 324.2C100.6 313.3 99.1 316.4 105.5 310C111.9 303.6 103.4 312.9 110.3 305C117.2 297.1 117.8 296.7 126.3 286.2C134.8 275.7 124.7 287.0 135.9 273.4C147.1 259.8 150.7 256.5 160 245.4C169.3 234.3 157.0 249.7 163.9 240C170.8 230.3 170.3 232.3 180.7 216.2C191.1 200.1 188.6 202.8 195 191.6C201.4 180.4 196.0 188.5 200 182.6C204.0 176.7 203.0 178.2 207 174C211.0 169.8 207.9 172.9 211.9 170C215.9 167.1 215.8 167.5 219 165.2C222.2 162.9 216.2 164.6 221.5 163C226.8 161.4 226.5 161.1 235 160.4C243.5 159.7 240.3 160.5 247 160.9C253.7 161.3 249.7 161.3 255 161.6C260.3 161.9 259.0 161.4 263 161.7C267.0 162.0 262.0 162.2 267 162.6C272.0 163.0 271.4 161.8 278.1 162.8C284.8 163.8 281.4 163.9 287 165.6C292.6 167.3 289.7 166.5 295 168C300.3 169.5 297.7 167.9 303 170.2C308.3 172.5 305.7 171.3 311 174.8C316.3 178.3 314.2 177.1 319 180.8C323.8 184.5 318.8 180.0 325.4 186C332.0 192.0 329.0 189.8 338.9 198.8C348.8 207.8 349.3 207.7 355 213.1C360.7 218.5 352.5 212.0 356 215C359.5 218.0 357.6 216.9 365.6 222.2C373.6 227.5 370.4 226.7 380 231C389.6 235.3 385.3 233.9 394.3 235C403.3 236.1 398.6 236.1 407.1 234.2C415.6 232.3 410.3 232.5 419.9 229.4C429.5 226.3 424.2 227.4 435.9 224.8C447.6 222.2 441.8 223.7 455.1 221.6C468.4 219.5 460.9 219.6 475.9 218.6C490.9 217.6 487.3 219.3 500 218.6C512.7 217.9 501.3 218.8 514 216.5C526.7 214.2 524.7 214.4 538 211.7C551.3 209.0 544.9 210.3 553.9 208.5C562.9 206.7 558.2 206.9 565.1 206.2C572.0 205.5 567.8 205.7 574.7 206.5C581.6 207.3 577.9 207.3 585.9 208.5C593.9 209.7 588.0 209.6 598.7 210.1C609.4 210.6 606.2 210.4 617.9 210.1C629.6 209.8 623.2 209.1 633.9 209.3C644.6 209.5 641.3 209.0 650 210.6C658.7 212.2 652.4 211.8 660 214C667.6 216.2 662.1 216.9 672.8 217.1C683.5 217.3 680.3 216.6 692 214.7C703.7 212.8 697.4 213.1 708 211.5C718.6 209.9 713.3 212.9 723.9 210C734.5 207.1 730.3 206.8 739.9 202.8C749.5 198.8 743.1 199.9 752.7 198C762.3 196.1 753.8 197.5 768.7 197.2C783.6 196.9 787.9 197.2 797.5 197.2" fill="none" stroke="#000" stroke-width="3.2" stroke-linejoin="round" stroke-linecap="butt"/>
<rect x="59" y="49" width="870" height="2" fill="#fa0000"/>
<rect x="323" y="163" width="606" height="1" fill="#fa0000"/>
<rect x="0" y="216" width="929" height="1" fill="#fa0000"/>
<rect x="0" y="284" width="929" height="1" fill="#2eb82e"/>
<rect x="0" y="287" width="929" height="3" fill="#2eb82e"/>
<path d="M812 278L848 235" stroke="#08ee08" stroke-width="4.6" fill="none"/>
<path d="M857 220.3L838.7 227.7L853.8 239.4Z" fill="#08ee08"/>
</g>
<text x="2" y="376.8" style="font-size:10.5px;letter-spacing:0" fill="#222">IT-Finance.com</text>
<rect x="874.5" y="267.5" width="54" height="19" fill="#fff" stroke="#3cb43c" stroke-width="1"/>
<text transform="translate(877.5 282.6) scale(0.915 1)" style="font-size:15.6px;letter-spacing:0;fill:#44b644">9 916,8</text>
<rect x="929" y="284" width="5" height="1" fill="#2eb82e"/>
<rect x="0" y="0" width="1001" height="23" fill="url(#gt)"/>
<rect x="0" y="23" width="1001" height="1" fill="#8f9da6"/>
<rect x="0" y="0" width="1001" height="1" fill="#93a1aa"/>
<rect x="0" y="0" width="1" height="445" fill="#9aa7b0"/>
<g stroke="#4a9c2c" stroke-width="1" fill="#5fb53a"><path d="M6.5 10.5V21M11.5 8.5V18M16.5 5V15" fill="none"/><rect x="5.5" y="12.3" width="2" height="6.7"/><rect x="10.5" y="10.3" width="2" height="6" fill="#cfe8c0"/><rect x="15.5" y="6.8" width="2" height="6" fill="#cfe8c0"/></g>
<text class="b" transform="translate(22.6 17.8) scale(0.9195 1)" style="font-size:16px;letter-spacing:0">US Dollar Basket (10$) Hebdomadaire 9 981,8 +0,48 % 15 avr. 2025, 20:10:38</text>
<text class="b" transform="translate(889.4 17.8) scale(0.949 1)" style="font-size:16px;letter-spacing:0">IT-Finance.com</text>
<rect x="1" y="24" width="259.5" height="22.5" fill="#e1e9ef"/>
<path d="M49.5 24V46.5M150.5 24V46.5M260.5 24V46.5M1 46.5H260.5" stroke="#aab5bd" stroke-width="1" fill="none"/>
<rect x="2" y="28" width="7" height="14" fill="#48c648"/><rect x="9" y="28" width="7" height="14" fill="#e06868"/>
<text transform="translate(19.2 38.8) scale(0.915 1)" style="font-size:15.6px;letter-spacing:0">Prix</text>
<rect x="53" y="28" width="14" height="14" fill="#0038ff"/>
<text transform="translate(70.4 38.8) scale(0.915 1)" style="font-size:15.6px;letter-spacing:0">SMA (20) J</text>
<rect x="154" y="28" width="14" height="14" fill="#000"/>
<text transform="translate(171.3 38.8) scale(0.915 1)" style="font-size:15.6px;letter-spacing:0">SMA (200) J</text>
<rect x="0" y="379" width="929" height="1" fill="#9aa7b0"/>
<rect x="1" y="386" width="928" height="1" fill="#808080"/>
<rect x="1" y="441" width="928" height="1" fill="#808080"/>
<g clip-path="url(#cr)"><polygon points="1.1,406.1 8.6,410.4 14,407.2 17.2,404 22.6,411.5 27.9,409.4 32.2,408.9 37.6,406.1 41.9,402.5 46.2,402.5 50.5,405.1 54.8,404 59.1,405.5 64.4,402.9 70.9,400.8 81.6,397.1 87,396 91.3,401.8 96.6,407.6 100.9,406.6 106.3,402.9 111.7,402.5 116,404.4 121.3,401.2 128.9,399.3 134.2,403.6 138.5,405.1 142.8,404.4 147.1,407.6 152.5,402.9 157.9,401.8 163.2,402.5 167.5,403.4 175,399.3 180.4,401.2 184.7,400.3 190.1,400.3 194.4,402.9 198.7,407.2 203,407.6 207.3,415.2 215,415.8 221.4,419.5 225.7,417.3 231.1,417.3 235.4,418.4 240.8,419.5 245.1,418.6 249.8,421.2 259,421.2 265.5,418 271.9,415.8 277.3,413.2 282.7,415.2 289.1,415.8 296.6,418.4 303.1,420.1 309.5,421.2 313.8,420.3 319.2,421.2 323.5,421.2 328.8,416.5 333.1,415.4 337.9,412.2 342.8,412.2 347.1,414.1 352,417.5 356.8,415.4 362.1,415.4 366.4,418.6 370.1,422.3 375,418.6 380.4,416.9 387.9,413.7 393.3,412.2 398.6,410.4 402.9,410 409.4,407.9 415.8,407.2 422.3,405.1 426.6,404.6 430,403.6 435.4,406.1 439,405.5 444.6,411.5 448.9,409.4 453.6,415.4 459,417.5 463.3,417.5 467.2,414.7 473,418.6 481.1,421.4 486.3,417.5 491.2,417.3 495.5,414.7 499.8,414.3 504.7,412.6 509.9,412.6 514.2,411.5 518.5,413.7 523.4,413.7 528.8,417.5 533.1,414.7 538.5,411.5 546.4,411.5 551.8,406.6 559.9,406.6 565.3,411.5 569.2,410.4 574.3,413.7 579.3,412.6 583.6,413.7 588.9,412.6 595.4,410 601.8,408.5 607.2,412.6 612.1,416.5 615.8,415.4 620.1,415.4 626.5,419.5 633,421.2 639.4,425 645,421.2 649.3,422.3 653.6,422.7 661.8,424.8 667.6,415.4 671.8,414.7 680.4,409.4 685.8,408.9 690.1,407.9 697.6,402.5 699.8,402.5 705.1,408.3 709.4,408.3 718,404.4 724,404 729.8,401.4 733.1,401.2 736.3,402.5 741.2,409.4 746.4,407.2 750.2,408.3 755.6,412.2 759.9,413.2 764.2,410.4 770,418.4 773.9,419.5 779.2,418.4 783.5,418.4 786.8,420.1 792.8,424.8 797.5,424.8 797.5,460 1.1,460" fill="#c48a8a"/></g>
<rect x="1" y="402" width="928" height="1" fill="#3030e0"/>
<rect x="1" y="425" width="928" height="1" fill="#3030e0"/>
<polyline points="1.1,406.1 8.6,410.4 14,407.2 17.2,404 22.6,411.5 27.9,409.4 32.2,408.9 37.6,406.1 41.9,402.5 46.2,402.5 50.5,405.1 54.8,404 59.1,405.5 64.4,402.9 70.9,400.8 81.6,397.1 87,396 91.3,401.8 96.6,407.6 100.9,406.6 106.3,402.9 111.7,402.5 116,404.4 121.3,401.2 128.9,399.3 134.2,403.6 138.5,405.1 142.8,404.4 147.1,407.6 152.5,402.9 157.9,401.8 163.2,402.5 167.5,403.4 175,399.3 180.4,401.2 184.7,400.3 190.1,400.3 194.4,402.9 198.7,407.2 203,407.6 207.3,415.2 215,415.8 221.4,419.5 225.7,417.3 231.1,417.3 235.4,418.4 240.8,419.5 245.1,418.6 249.8,421.2 259,421.2 265.5,418 271.9,415.8 277.3,413.2 282.7,415.2 289.1,415.8 296.6,418.4 303.1,420.1 309.5,421.2 313.8,420.3 319.2,421.2 323.5,421.2 328.8,416.5 333.1,415.4 337.9,412.2 342.8,412.2 347.1,414.1 352,417.5 356.8,415.4 362.1,415.4 366.4,418.6 370.1,422.3 375,418.6 380.4,416.9 387.9,413.7 393.3,412.2 398.6,410.4 402.9,410 409.4,407.9 415.8,407.2 422.3,405.1 426.6,404.6 430,403.6 435.4,406.1 439,405.5 444.6,411.5 448.9,409.4 453.6,415.4 459,417.5 463.3,417.5 467.2,414.7 473,418.6 481.1,421.4 486.3,417.5 491.2,417.3 495.5,414.7 499.8,414.3 504.7,412.6 509.9,412.6 514.2,411.5 518.5,413.7 523.4,413.7 528.8,417.5 533.1,414.7 538.5,411.5 546.4,411.5 551.8,406.6 559.9,406.6 565.3,411.5 569.2,410.4 574.3,413.7 579.3,412.6 583.6,413.7 588.9,412.6 595.4,410 601.8,408.5 607.2,412.6 612.1,416.5 615.8,415.4 620.1,415.4 626.5,419.5 633,421.2 639.4,425 645,421.2 649.3,422.3 653.6,422.7 661.8,424.8 667.6,415.4 671.8,414.7 680.4,409.4 685.8,408.9 690.1,407.9 697.6,402.5 699.8,402.5 705.1,408.3 709.4,408.3 718,404.4 724,404 729.8,401.4 733.1,401.2 736.3,402.5 741.2,409.4 746.4,407.2 750.2,408.3 755.6,412.2 759.9,413.2 764.2,410.4 770,418.4 773.9,419.5 779.2,418.4 783.5,418.4 786.8,420.1 792.8,424.8 797.5,424.8" fill="none" stroke="#111" stroke-width="1.1" stroke-linejoin="round"/>
<rect x="1" y="380" width="80" height="22.5" fill="#e1e9ef"/>
<path d="M81.5 380V402.5M1 402.5H81.5" stroke="#c3ccd3" stroke-width="1" fill="none"/>
<rect x="2" y="384" width="14" height="14" fill="#000"/>
<text transform="translate(19.3 394.9) scale(0.915 1)" style="font-size:15.6px;letter-spacing:0">RSI (14)</text>
<rect x="928" y="24" width="1" height="421" fill="#8d9ba5"/>
<rect x="0" y="444" width="929" height="1" fill="#8d9ba5"/>
<rect x="64" y="445" width="1" height="3" fill="#8d9ba5"/>
<text class="x" x="64.4" y="462" text-anchor="middle" style="letter-spacing:0.4px">avr.</text>
<rect x="124" y="445" width="1" height="3" fill="#8d9ba5"/>
<text class="x" x="124.3" y="462" text-anchor="middle">juil.</text>
<rect x="184" y="445" width="1" height="3" fill="#8d9ba5"/>
<text class="x" x="184.4" y="462" text-anchor="middle" style="letter-spacing:0.4px">oct.</text>
<rect x="245" y="445" width="1" height="3" fill="#8d9ba5"/>
<text class="b" x="245.5" y="462" text-anchor="middle" style="font-size:16.4px;letter-spacing:-0.3px">2023</text>
<rect x="305" y="445" width="1" height="3" fill="#8d9ba5"/>
<text class="x" x="305.2" y="462" text-anchor="middle" style="letter-spacing:0.4px">avr.</text>
<rect x="365" y="445" width="1" height="3" fill="#8d9ba5"/>
<text class="x" x="365.4" y="462" text-anchor="middle">juil.</text>
<rect x="426" y="445" width="1" height="3" fill="#8d9ba5"/>
<text class="x" x="426.5" y="462" text-anchor="middle" style="letter-spacing:0.4px">oct.</text>
<rect x="486" y="445" width="1" height="3" fill="#8d9ba5"/>
<text class="b" x="486.6" y="462" text-anchor="middle" style="font-size:16.4px;letter-spacing:-0.3px">2024</text>
<rect x="546" y="445" width="1" height="3" fill="#8d9ba5"/>
<text class="x" x="546.6" y="462" text-anchor="middle" style="letter-spacing:0.4px">avr.</text>
<rect x="607" y="445" width="1" height="3" fill="#8d9ba5"/>
<text class="x" x="607.2" y="462" text-anchor="middle">juil.</text>
<rect x="671" y="445" width="1" height="3" fill="#8d9ba5"/>
<text class="x" x="671.4" y="462" text-anchor="middle" style="letter-spacing:0.4px">oct.</text>
<rect x="732" y="445" width="1" height="3" fill="#8d9ba5"/>
<text class="b" x="732" y="462" text-anchor="middle" style="font-size:16.4px;letter-spacing:-0.3px">2025</text>
<rect x="792" y="445" width="1" height="3" fill="#8d9ba5"/>
<text class="x" x="792.1" y="462" text-anchor="middle" style="letter-spacing:0.4px">avr.</text>
<rect x="852" y="445" width="1" height="3" fill="#8d9ba5"/>
<text class="x" x="852.4" y="462" text-anchor="middle">juil.</text>
<rect x="913" y="445" width="1" height="3" fill="#8d9ba5"/>
<rect x="929" y="36" width="4" height="1" fill="#8d9ba5"/>
<text transform="translate(935.6 41.2) scale(0.915 1)" style="font-size:15.6px;letter-spacing:0">11 500</text>
<rect x="929" y="112" width="4" height="1" fill="#8d9ba5"/>
<text transform="translate(935.6 117.2) scale(0.915 1)" style="font-size:15.6px;letter-spacing:0">11 000</text>
<rect x="929" y="191" width="4" height="1" fill="#8d9ba5"/>
<text transform="translate(935.6 196.2) scale(0.915 1)" style="font-size:15.6px;letter-spacing:0">10 500</text>
<rect x="929" y="362" width="4" height="1" fill="#8d9ba5"/>
<text transform="translate(935.6 367.2) scale(0.915 1)" style="font-size:15.6px;letter-spacing:0">9 500</text>
<rect x="929" y="386" width="4" height="1" fill="#8d9ba5"/>
<text class="b" transform="translate(935.4 395) scale(0.97 1)" style="font-size:16.2px;letter-spacing:0">100</text>
<rect x="929" y="414" width="4" height="1" fill="#8d9ba5"/>
<text transform="translate(935.6 419.2) scale(0.915 1)" style="font-size:15.6px;letter-spacing:0">50</text>
<text class="b" transform="translate(935.4 440.3) scale(0.97 1)" style="font-size:16.2px;letter-spacing:0">0</text>
<rect x="929" y="441" width="4" height="1" fill="#8d9ba5"/>
<rect x="933.5" y="41" width="59" height="18" fill="url(#gr)" stroke="#9a9a9a" stroke-width="1"/>
<text transform="translate(935.7 55.4) scale(0.915 1)" style="font-size:15.6px;letter-spacing:0;fill:#000">11 404,7</text>
<rect x="929" y="49" width="4" height="2" fill="#fa0000"/>
<rect x="933.5" y="153.5" width="59" height="19" fill="url(#gr)" stroke="#9a9a9a" stroke-width="1"/>
<text transform="translate(935.7 168.4) scale(0.915 1)" style="font-size:15.6px;letter-spacing:0;fill:#000">10 671,9</text>
<rect x="929" y="163" width="4" height="1" fill="#fa0000"/>
<rect x="933.5" y="187.5" width="59" height="19" fill="url(#gw)" stroke="#9a9a9a" stroke-width="1"/>
<text transform="translate(935.7 202.4) scale(0.915 1)" style="font-size:15.6px;letter-spacing:0;fill:#000">10 462,5</text>
<rect x="929" y="197" width="4" height="1" fill="#000"/>
<rect x="933.5" y="206.5" width="59" height="19" fill="url(#gr)" stroke="#9a9a9a" stroke-width="1"/>
<text transform="translate(935.7 221.4) scale(0.915 1)" style="font-size:15.6px;letter-spacing:0;fill:#000">10 344,7</text>
<rect x="929" y="216" width="4" height="1" fill="#fa0000"/>
<rect x="933.5" y="225.5" width="59" height="18" fill="url(#gw)" stroke="#9a9a9a" stroke-width="1"/>
<text transform="translate(935.7 239.9) scale(0.915 1)" style="font-size:15.6px;letter-spacing:0;fill:#1e30ff">10 239,7</text>
<rect x="929" y="234" width="4" height="1" fill="#1e30ff"/>
<rect x="933.5" y="261.5" width="51" height="19" fill="url(#gy)" stroke="#9a9a9a" stroke-width="1"/>
<text transform="translate(935.7 276.4) scale(0.915 1)" style="font-size:15.6px;letter-spacing:0;fill:#000">9 981,8</text>
<rect x="929" y="276" width="4" height="1.5" fill="#000"/>
<rect x="933.5" y="280.5" width="51" height="18.5" fill="url(#gg)" stroke="#9a9a9a" stroke-width="1"/>
<text transform="translate(935.7 295.15) scale(0.915 1)" style="font-size:15.6px;letter-spacing:0;fill:#000">9 943,8</text>
<rect x="933.5" y="414.5" width="47.5" height="18.5" fill="#eef2f5" stroke="#b0b8be" stroke-width="1"/>
<text transform="translate(935.7 429.15) scale(0.915 1)" style="font-size:15.6px;letter-spacing:0;fill:#000">31,698</text>
<rect x="929" y="423" width="4" height="1" fill="#000"/>
</svg></body></html>
